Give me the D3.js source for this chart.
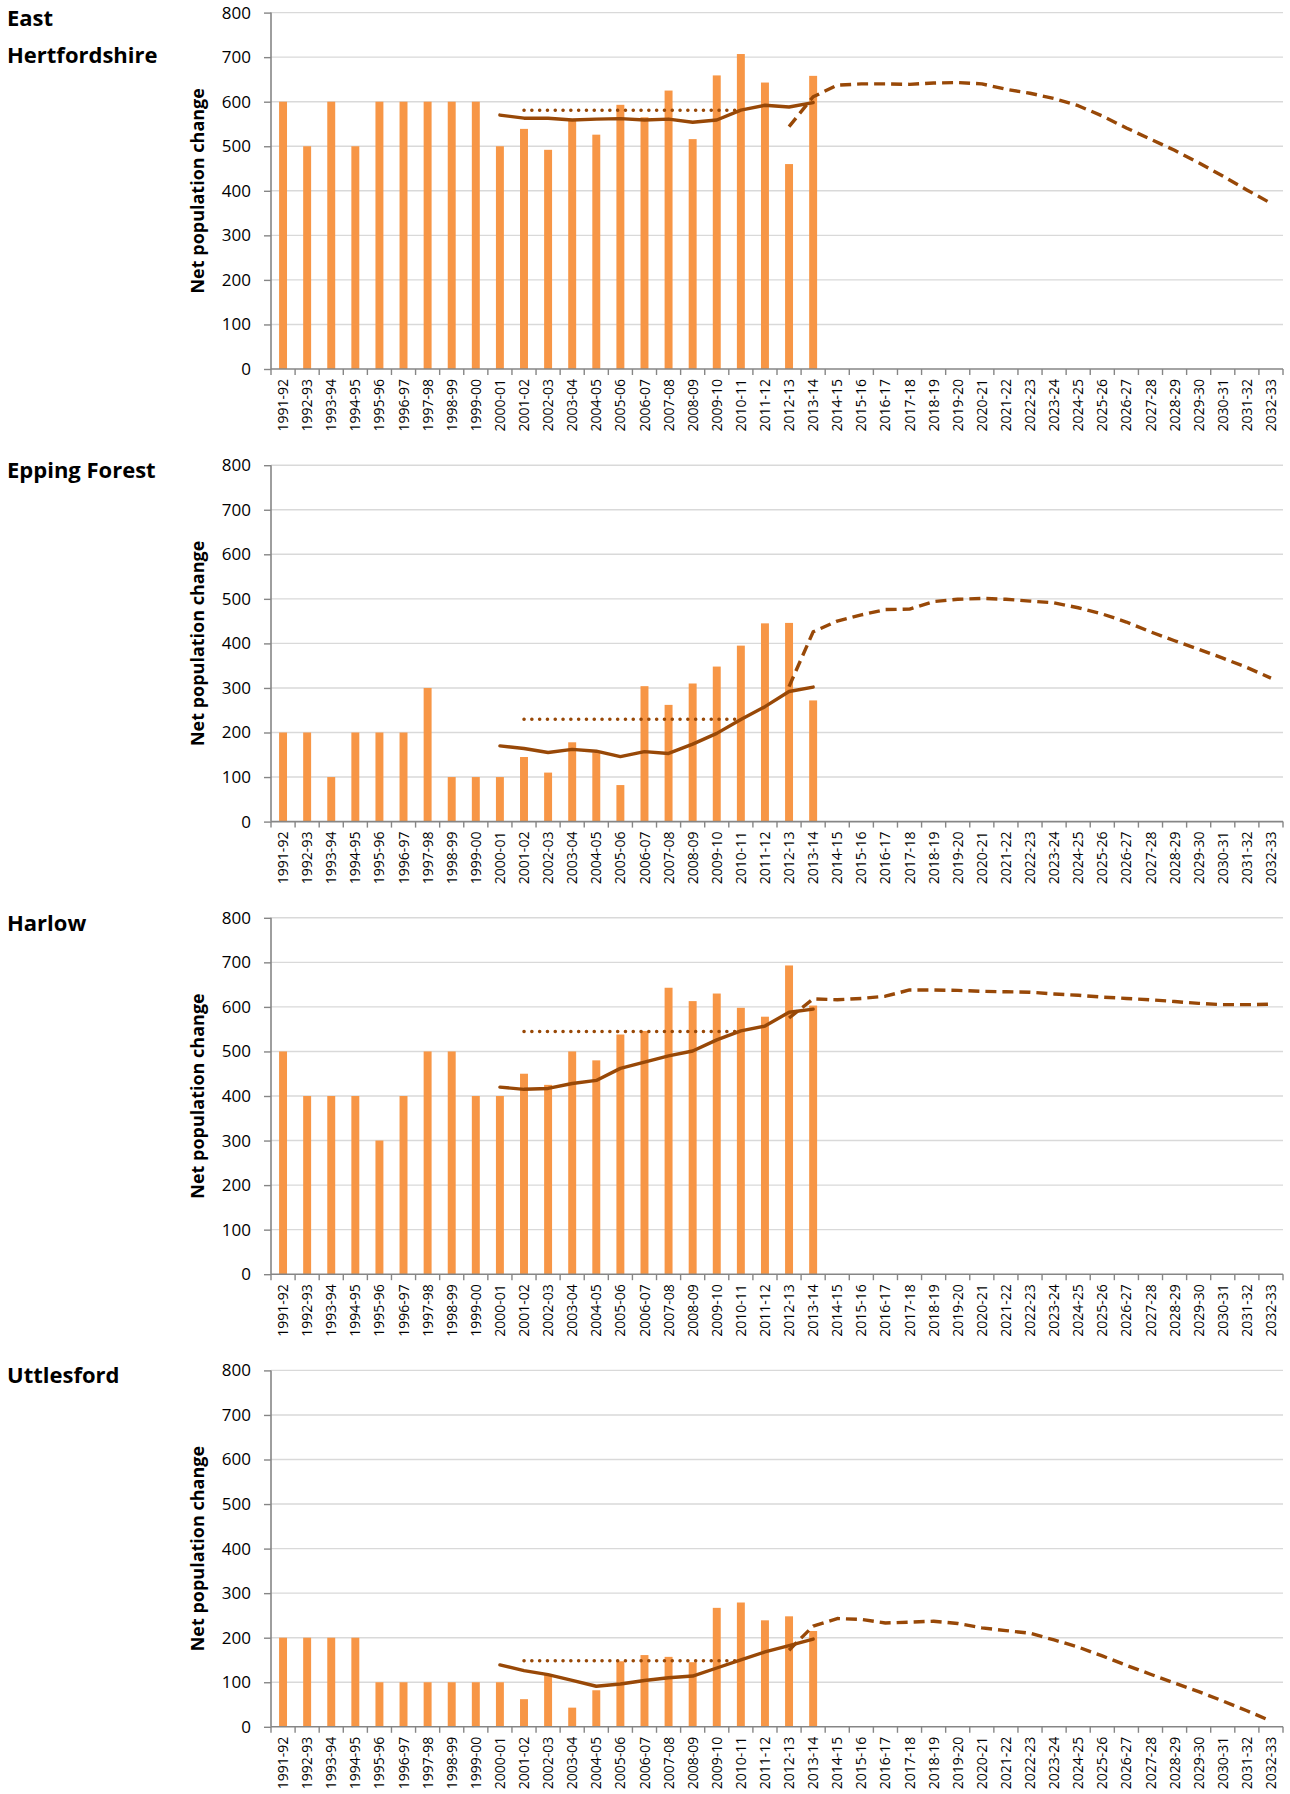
<!DOCTYPE html>
<html>
<head>
<meta charset="utf-8">
<script src="https://cdn.jsdelivr.net/npm/d3@7"></script>
<style>
  body { margin: 0; background: #fff; }
  svg { display: block; }
</style>
</head>
<body>
<div id="chart"></div>
<script>
// categories (financial years)
const years = ["1991-92", "1992-93", "1993-94", "1994-95", "1995-96", "1996-97", "1997-98",
    "1998-99", "1999-00", "2000-01", "2001-02", "2002-03", "2003-04", "2004-05", "2005-06",
    "2006-07", "2007-08", "2008-09", "2009-10", "2010-11", "2011-12", "2012-13", "2013-14",
    "2014-15", "2015-16", "2016-17", "2017-18", "2018-19", "2019-20", "2020-21", "2021-22",
    "2022-23", "2023-24", "2024-25", "2025-26", "2026-27", "2027-28", "2028-29", "2029-30",
    "2030-31", "2031-32", "2032-33"];
const yTicks = [0, 100, 200, 300, 400, 500, 600, 700, 800];
const titles = [["East", "Hertfordshire"], ["Epping Forest"], ["Harlow"], ["Uttlesford"]];

// which years each series covers
const barYears = years.slice(0, 23);      // 1991-92 .. 2013-14
const trendYears = years.slice(9, 23);    // 2000-01 .. 2013-14
const avgYears = years.slice(10, 20);     // 2001-02 .. 2010-11
const projYears = years.slice(21);        // 2012-13 .. 2032-33

// East Hertfordshire
const eastHertsChange = [600, 500, 600, 500, 600, 600, 600, 600, 600, 500, 539, 492, 557, 526, 593, 565, 625, 516, 659, 707, 643, 460, 658];
const eastHertsTrend = [570, 563, 563, 559, 561, 562, 559, 561, 554, 559, 581, 592, 588, 598];
const eastHertsAverage = [581, 581, 581, 581, 581, 581, 581, 581, 581, 581];
const eastHertsProjection = [544, 611, 637, 640, 640, 639, 642, 643, 640, 628, 619, 607, 591, 568, 541, 516, 491, 463, 433, 402, 372];

// Epping Forest
const eppingChange = [200, 200, 100, 200, 200, 200, 300, 100, 100, 100, 145, 110, 178, 155, 82, 304, 262, 310, 348, 395, 445, 446, 272];
const eppingTrend = [170, 164, 155, 162, 158, 146, 157, 153, 174, 198, 229, 258, 292, 302];
const eppingAverage = [230, 230, 230, 230, 230, 230, 230, 230, 230, 230];
const eppingProjection = [303, 426, 450, 464, 476, 477, 494, 499, 501, 499, 495, 491, 480, 466, 448, 426, 406, 387, 367, 346, 322];

// Harlow
const harlowChange = [500, 400, 400, 400, 300, 400, 500, 500, 400, 400, 450, 425, 500, 480, 538, 546, 643, 613, 630, 598, 578, 693, 603];
const harlowTrend = [420, 415, 417, 428, 435, 462, 476, 490, 501, 526, 546, 557, 588, 595];
const harlowAverage = [545, 545, 545, 545, 545, 545, 545, 545, 545, 545];
const harlowProjection = [575, 618, 616, 619, 624, 638, 638, 637, 635, 634, 633, 629, 626, 622, 619, 616, 612, 608, 605, 605, 606];

// Uttlesford
const uttlesfordChange = [200, 200, 200, 200, 100, 100, 100, 100, 100, 100, 62, 117, 43, 82, 147, 161, 157, 145, 267, 279, 239, 248, 215];
const uttlesfordTrend = [139, 126, 117, 104, 91, 96, 104, 110, 114, 132, 150, 168, 182, 197];
const uttlesfordAverage = [148, 148, 148, 148, 148, 148, 148, 148, 148, 148];
const uttlesfordProjection = [172, 226, 243, 241, 233, 235, 237, 232, 222, 216, 210, 195, 179, 159, 138, 118, 98, 79, 58, 36, 13];

const panels = [
    { bars: eastHertsChange, trend: eastHertsTrend, avg: eastHertsAverage, proj: eastHertsProjection },
    { bars: eppingChange, trend: eppingTrend, avg: eppingAverage, proj: eppingProjection },
    { bars: harlowChange, trend: harlowTrend, avg: harlowAverage, proj: harlowProjection },
    { bars: uttlesfordChange, trend: uttlesfordTrend, avg: uttlesfordAverage, proj: uttlesfordProjection }
];

const WIDTH = 1290, HEIGHT = 1794;
const plotLeft = 271, plotRight = 1283;
const panelStep = 452.6, plotTop0 = 12.6, plotH = 356.4;
const FONT = "'Open Sans', 'Noto Sans', sans-serif";
const barColor = "#F79646", lineColor = "#984807", axisColor = "#868686", gridColor = "#D9D9D9";

const svg = d3.select("#chart").append("svg")
    .attr("width", WIDTH).attr("height", HEIGHT)
    .style("background-color", "#fff");

const x = d3.scaleBand().domain(years).range([plotLeft, plotRight])
    .paddingInner(0.67).paddingOuter(0.335);
const cx = d => x(d) + x.bandwidth() / 2;

panels.forEach((p, i) => {
    const top = plotTop0 + i * panelStep;
    const y = d3.scaleLinear().domain([0, 800]).range([top + plotH, top]);
    const g = svg.append("g");

    // title
    const title = g.append("text")
        .attr("font-family", FONT).attr("font-weight", 700).attr("font-size", 22)
        .attr("fill", "#000");
    titles[i].forEach((t, k) => {
        title.append("tspan").attr("x", 7).attr("y", top + 13 + k * 37.5).text(t);
    });

    // gridlines
    g.append("g").selectAll("line").data(yTicks.slice(1)).join("line")
        .attr("x1", plotLeft).attr("x2", plotRight)
        .attr("y1", d => y(d)).attr("y2", d => y(d))
        .attr("stroke", gridColor).attr("stroke-width", 1.4);

    // bars
    g.append("g").selectAll("rect").data(barYears.map((yr, k) => [yr, p.bars[k]])).join("rect")
        .attr("x", d => x(d[0]))
        .attr("width", x.bandwidth())
        .attr("y", d => y(d[1]))
        .attr("height", d => y(0) - y(d[1]))
        .attr("fill", barColor);

    const line = d3.line().x(d => cx(d[0])).y(d => y(d[1]));

    // average (dotted)
    g.append("path").datum(avgYears.map((yr, k) => [yr, p.avg[k]]))
        .attr("d", line).attr("fill", "none")
        .attr("stroke", lineColor).attr("stroke-width", 3.5)
        .attr("stroke-linecap", "round").attr("stroke-dasharray", "0.1 7.7");

    // trend (solid)
    g.append("path").datum(trendYears.map((yr, k) => [yr, p.trend[k]]))
        .attr("d", line).attr("fill", "none")
        .attr("stroke", lineColor).attr("stroke-width", 3.4)
        .attr("stroke-linejoin", "round").attr("stroke-linecap", "round");

    // projection (dashed)
    g.append("path").datum(projYears.map((yr, k) => [yr, p.proj[k]]))
        .attr("d", line).attr("fill", "none")
        .attr("stroke", lineColor).attr("stroke-width", 3.4)
        .attr("stroke-linejoin", "round").attr("stroke-dasharray", "11 6");

    // y axis
    const yAxis = g.append("g").attr("transform", `translate(${plotLeft},0)`)
        .call(d3.axisLeft(y).tickValues(yTicks).tickSize(7).tickPadding(13));
    yAxis.select(".domain").attr("stroke", axisColor).attr("stroke-width", 1.6)
        .attr("d", `M0,${y(800)}V${y(0)}`);
    yAxis.selectAll(".tick line").attr("stroke", axisColor).attr("stroke-width", 1.4);
    yAxis.selectAll(".tick text").attr("font-family", FONT).attr("font-size", 17).attr("fill", "#000");

    // x axis labels
    const xAxis = g.append("g").attr("transform", `translate(0,${y(0)})`)
        .call(d3.axisBottom(x).tickSize(0));
    xAxis.select(".domain").attr("stroke", axisColor).attr("stroke-width", 1.6)
        .attr("d", `M${plotLeft},0H${plotRight}`);
    xAxis.selectAll(".tick text")
        .attr("font-family", FONT).attr("font-size", 14).attr("fill", "#000")
        .attr("text-anchor", "end")
        .attr("transform", "rotate(-90)")
        .attr("x", -10).attr("y", 0).attr("dy", "0.36em");

    // x ticks between categories
    g.append("g").selectAll("line").data(d3.range(years.length + 1)).join("line")
        .attr("x1", k => plotLeft + k * x.step()).attr("x2", k => plotLeft + k * x.step())
        .attr("y1", y(0)).attr("y2", y(0) + 6)
        .attr("stroke", axisColor).attr("stroke-width", 1.4);

    // y axis title
    g.append("text")
        .attr("transform", `translate(198,${(y(0) + y(800)) / 2}) rotate(-90)`)
        .attr("text-anchor", "middle").attr("dy", "0.35em")
        .attr("font-family", FONT).attr("font-weight", 700).attr("font-size", 18)
        .attr("fill", "#000")
        .text("Net population change");
});
</script>
</body>
</html>
